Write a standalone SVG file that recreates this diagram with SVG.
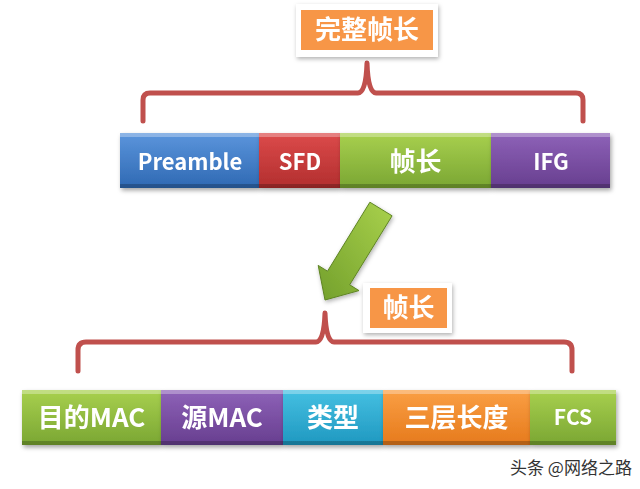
<svg xmlns="http://www.w3.org/2000/svg" width="640" height="489" viewBox="0 0 640 489">
<defs>
<style>
.t{font-family:"Noto Sans CJK SC","Liberation Sans",sans-serif;font-weight:bold;fill:#fff;text-anchor:middle;}
.brace{fill:none;stroke:#c0504d;stroke-width:5;stroke-linecap:round;stroke-linejoin:round;}
.hi{fill:#fff;fill-opacity:0.3;}
.lo{fill:#000;fill-opacity:0.22;}
</style>
<filter id="sh" x="-10%" y="-10%" width="125%" height="135%">
<feDropShadow dx="1.5" dy="2.5" stdDeviation="2" flood-color="#000" flood-opacity="0.35"/>
</filter>
<filter id="sh2" x="-10%" y="-10%" width="125%" height="135%">
<feDropShadow dx="1" dy="2" stdDeviation="2" flood-color="#000" flood-opacity="0.3"/>
</filter>
<linearGradient id="gBlue" x1="0" y1="0" x2="0" y2="1"><stop offset="0" stop-color="#5b95dc"/><stop offset="1" stop-color="#2f69b3"/></linearGradient>
<linearGradient id="gRed" x1="0" y1="0" x2="0" y2="1"><stop offset="0" stop-color="#dc4a4a"/><stop offset="1" stop-color="#b22f2f"/></linearGradient>
<linearGradient id="gGreen" x1="0" y1="0" x2="0" y2="1"><stop offset="0" stop-color="#a8d04e"/><stop offset="1" stop-color="#7aa633"/></linearGradient>
<linearGradient id="gPurple" x1="0" y1="0" x2="0" y2="1"><stop offset="0" stop-color="#8e62b8"/><stop offset="1" stop-color="#673e8f"/></linearGradient>
<linearGradient id="gCyan" x1="0" y1="0" x2="0" y2="1"><stop offset="0" stop-color="#45c0e2"/><stop offset="1" stop-color="#1f98c0"/></linearGradient>
<linearGradient id="gOrange" x1="0" y1="0" x2="0" y2="1"><stop offset="0" stop-color="#fa9f44"/><stop offset="1" stop-color="#e67a1c"/></linearGradient>
<linearGradient id="gArrow" x1="1" y1="0" x2="0" y2="1"><stop offset="0" stop-color="#a9d14c"/><stop offset="1" stop-color="#73a02c"/></linearGradient>
</defs>

<g id="connectors">
<path class="brace" d="M143,121 V100 Q143,93 150,93 H358 Q366,93 367,63 Q368,93 376,93 H576 Q583,93 583,100 V121"/>
<path class="brace" d="M78,371 V350 Q78,342 86,342 H316 Q324,342 325,313 Q326,342 334,342 H564 Q572,342 572,350 V371"/>
<polygon points="369.9,202.2 392.1,215.8 349.7,284.8 359,290.6 325,300 318.2,265.4 327.5,271.2" fill="url(#gArrow)" stroke="#5e8424" stroke-width="1" filter="url(#sh2)"/>
</g>

<g id="label-top" filter="url(#sh2)">
<rect x="296" y="4" width="142" height="53" fill="#fff"/>
<rect x="301" y="10" width="132" height="40" fill="#f79646"/>
<text class="t" x="367" y="39" font-size="26">完整帧长</text>
</g>

<g id="n-preamble" filter="url(#sh)">
<rect x="120" y="133" width="139" height="55" fill="url(#gBlue)"/>
<rect class="hi" x="120" y="133" width="139" height="4"/>
<rect class="lo" x="120" y="184" width="139" height="4"/>
<text class="t" x="190" y="170" font-size="22">Preamble</text>
</g>
<g id="n-sfd" filter="url(#sh)">
<rect x="259" y="133" width="81" height="55" fill="url(#gRed)"/>
<rect class="hi" x="259" y="133" width="81" height="4"/>
<rect class="lo" x="259" y="184" width="81" height="4"/>
<text class="t" x="300" y="170" font-size="22">SFD</text>
</g>
<g id="n-framelen" filter="url(#sh)">
<rect x="340" y="133" width="151" height="55" fill="url(#gGreen)"/>
<rect class="hi" x="340" y="133" width="151" height="4"/>
<rect class="lo" x="340" y="184" width="151" height="4"/>
<text class="t" x="415.5" y="171" font-size="26">帧长</text>
</g>
<g id="n-ifg" filter="url(#sh)">
<rect x="491" y="133" width="119" height="55" fill="url(#gPurple)"/>
<rect class="hi" x="491" y="133" width="119" height="4"/>
<rect class="lo" x="491" y="184" width="119" height="4"/>
<text class="t" x="551" y="170" font-size="22">IFG</text>
</g>

<g id="label-bottom" filter="url(#sh2)">
<rect x="363" y="283" width="89" height="50" fill="#fff"/>
<rect x="370" y="288" width="77" height="40" fill="#f79646"/>
<text class="t" x="408.5" y="317" font-size="26">帧长</text>
</g>

<g id="n-dstmac" filter="url(#sh)">
<rect x="22" y="390" width="139" height="55" fill="url(#gGreen)"/>
<rect class="hi" x="22" y="390" width="139" height="4"/>
<rect class="lo" x="22" y="441" width="139" height="4"/>
<text class="t" x="91.5" y="427" font-size="26">目的MAC</text>
</g>
<g id="n-srcmac" filter="url(#sh)">
<rect x="161" y="390" width="122" height="55" fill="url(#gPurple)"/>
<rect class="hi" x="161" y="390" width="122" height="4"/>
<rect class="lo" x="161" y="441" width="122" height="4"/>
<text class="t" x="222" y="427" font-size="26">源MAC</text>
</g>
<g id="n-type" filter="url(#sh)">
<rect x="283" y="390" width="100" height="55" fill="url(#gCyan)"/>
<rect class="hi" x="283" y="390" width="100" height="4"/>
<rect class="lo" x="283" y="441" width="100" height="4"/>
<text class="t" x="333" y="427" font-size="26">类型</text>
</g>
<g id="n-l3len" filter="url(#sh)">
<rect x="383" y="390" width="147" height="55" fill="url(#gOrange)"/>
<rect class="hi" x="383" y="390" width="147" height="4"/>
<rect class="lo" x="383" y="441" width="147" height="4"/>
<text class="t" x="456.5" y="427" font-size="26">三层长度</text>
</g>
<g id="n-fcs" filter="url(#sh)">
<rect x="530" y="390" width="86" height="55" fill="url(#gGreen)"/>
<rect class="hi" x="530" y="390" width="86" height="4"/>
<rect class="lo" x="530" y="441" width="86" height="4"/>
<text class="t" x="573" y="425" font-size="21">FCS</text>
</g>

<text x="510" y="474" font-family="Noto Sans CJK SC,sans-serif" font-size="17" fill="#333">头条 @网络之路</text>
</svg>
